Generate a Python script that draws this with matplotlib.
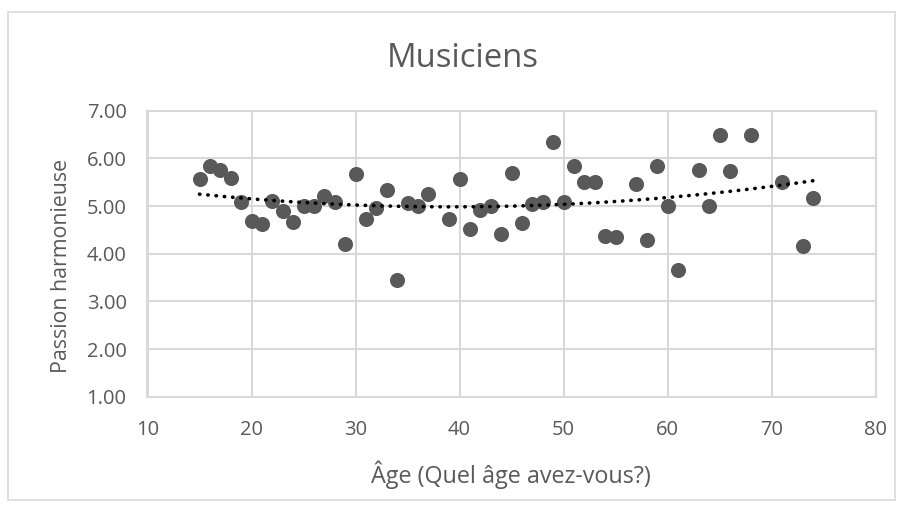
import numpy as np
import matplotlib
matplotlib.use("Agg")
import matplotlib.pyplot as plt
from matplotlib.patches import Rectangle

age = [15, 16, 17, 18, 19, 20, 21, 22, 23, 24, 25, 26, 27, 28, 29, 30, 31, 32, 33, 34,
       35, 36, 37, 39, 40, 41, 42, 43, 44, 45, 46, 47, 48, 49, 50, 51, 52, 53, 54, 55,
       57, 58, 59, 60, 61, 63, 64, 65, 66, 68, 71, 73, 74]
passion = [5.56, 5.85, 5.76, 5.59, 5.08, 4.69, 4.62, 5.11, 4.90, 4.67, 5.01, 5.01, 5.21, 5.08, 4.21, 5.67, 4.72, 4.96, 5.34, 3.44,
           5.06, 5.00, 5.25, 4.72, 5.57, 4.51, 4.92, 5.00, 4.41, 5.69, 4.64, 5.05, 5.09, 6.34, 5.09, 5.83, 5.51, 5.51, 4.37, 4.34,
           5.46, 4.29, 5.83, 5.00, 3.66, 5.76, 5.00, 6.50, 5.74, 6.50, 5.51, 4.17, 5.17]
title = "Musiciens"
xlabel = "Âge (Quel âge avez-vous?)"
ylabel = "Passion harmonieuse"
xticks = [10, 20, 30, 40, 50, 60, 70, 80]
yticks = [1, 2, 3, 4, 5, 6, 7]

plt.rcParams['font.family'] = ['Open Sans', 'DejaVu Sans']
txt = '#595959'
grid = '#d9d9d9'

W, H = 904, 508
fig = plt.figure(figsize=(W / 100, H / 100), dpi=100)
fig.patches.append(Rectangle((8 / W, 1 - 500 / H), (895 - 8) / W, (500 - 12) / H,
                             transform=fig.transFigure, fill=False, edgecolor=grid, lw=1.2))
ax = fig.add_axes([147.5 / W, 1 - 396.7 / H, (875.7 - 147.5) / W, (396.7 - 110.7) / H])

ax.set_xlim(10, 80)
ax.set_ylim(1, 7)
ax.set_xticks(xticks)
ax.set_yticks(yticks)
ax.set_yticklabels([f"{v:.2f}" for v in yticks])
ax.grid(True, color=grid, lw=1.5)
ax.set_axisbelow(True)
for s in ax.spines.values():
    s.set_color(grid)
    s.set_linewidth(1.5)
ax.tick_params(length=0, colors=txt, labelsize=14.5)
ax.tick_params(axis='x', pad=17)
ax.tick_params(axis='y', pad=15)

ax.scatter(age, passion, s=118, color='#595959', zorder=3, linewidths=0)

coef = np.polyfit(age, passion, 2)
xs = np.linspace(min(age), max(age), 200)
ax.plot(xs, np.polyval(coef, xs), color='black', lw=2.6, linestyle=(0, (0.1, 2.2)),
        dash_capstyle='round', zorder=4)

fig.text(462.5 / W, 1 - 67 / H, title, fontsize=23.6, color=txt, ha='center', va='baseline')
fig.text(511 / W, 1 - 483 / H, xlabel, fontsize=16.8, color=txt, ha='center', va='baseline')
fig.text(67 / W, 1 - 266 / H, ylabel, fontsize=15.3, color=txt, ha='center', va='baseline',
         rotation=90, rotation_mode='anchor')

fig.savefig("out.png", dpi=100)
